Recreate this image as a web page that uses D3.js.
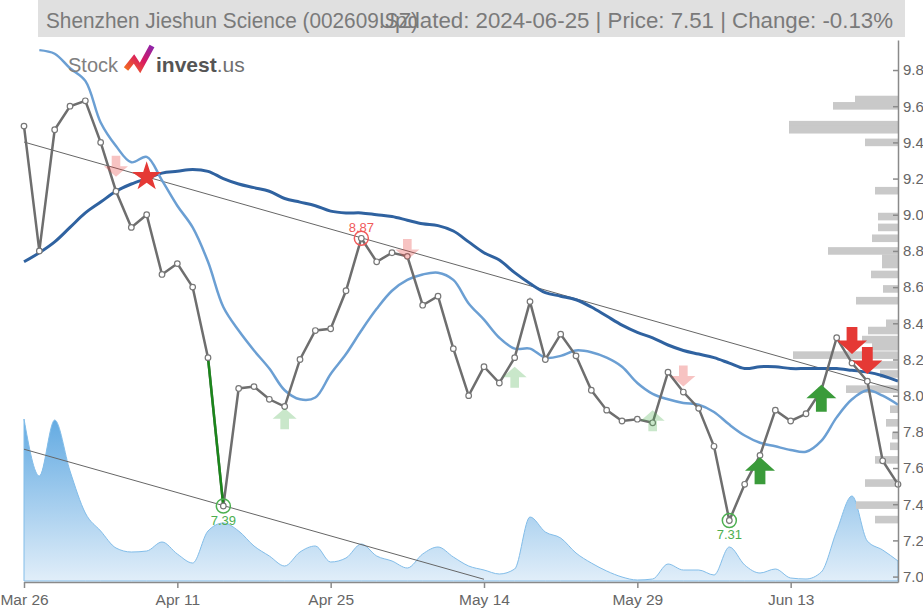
<!DOCTYPE html>
<html>
<head>
<meta charset="utf-8">
<script src="https://cdn.jsdelivr.net/npm/d3@7"></script>
<style>
body{margin:0;background:#fff;}
svg{display:block;font-family:"Liberation Sans",Arial,sans-serif;}
</style>
</head>
<body>
<div id="chart"></div>
<script>
// trading days, label every 10 sessions
var tickIdx = [0, 10, 20, 30, 40, 50];
var tickLabels = ["Mar 26", "Apr 11", "Apr 25", "May 14", "May 29", "Jun 13"];
var yTicks = [7.0, 7.2, 7.4, 7.6, 7.8, 8.0, 8.2, 8.4, 8.6, 8.8, 9.0, 9.2, 9.4, 9.6, 9.8];

var price = [9.49, 8.80, 9.47, 9.60, 9.63, 9.40, 9.13, 8.93, 9.00, 8.67,
  8.73, 8.60, 8.21, 7.39, 8.04, 8.05, 7.98, 7.94, 8.20, 8.36,
  8.37, 8.58, 8.87, 8.74, 8.79, 8.77, 8.50, 8.55, 8.26, 8.00,
  8.16, 8.07, 8.21, 8.52, 8.20, 8.34, 8.22, 8.03, 7.92, 7.86,
  7.87, 7.85, 8.13, 8.02, 7.93, 7.72, 7.31, 7.51, 7.67, 7.92,
  7.86, 7.90, 8.03, 8.32, 8.18, 8.08, 7.64, 7.51];

var maShort = [null, 9.91, 9.89, 9.81, 9.74, 9.51, 9.38, 9.29, 9.32, 9.19,
  9.05, 8.93, 8.74, 8.49, 8.36, 8.25, 8.15, 8.03, 7.98, 7.99,
  8.12, 8.23, 8.36, 8.48, 8.58, 8.64, 8.67, 8.68, 8.64, 8.51,
  8.42, 8.32, 8.26, 8.26, 8.21, 8.22, 8.25, 8.24, 8.21, 8.16,
  8.07, 8.01, 7.98, 7.96, 7.95, 7.91, 7.84, 7.78, 7.74, 7.72,
  7.70, 7.69, 7.75, 7.88, 7.98, 8.03, 8.00, 7.95];

var maLong = [8.74, 8.79, 8.85, 8.93, 9.01, 9.07, 9.13, 9.17, 9.20, 9.23,
  9.24, 9.25, 9.24, 9.20, 9.17, 9.15, 9.13, 9.09, 9.07, 9.05,
  9.02, 9.01, 9.01, 9.00, 8.99, 8.97, 8.95, 8.94, 8.91, 8.85,
  8.79, 8.75, 8.68, 8.62, 8.57, 8.55, 8.53, 8.49, 8.44, 8.39,
  8.35, 8.32, 8.28, 8.25, 8.23, 8.21, 8.18, 8.15, 8.16, 8.16,
  8.15, 8.15, 8.15, 8.15, 8.14, 8.13, 8.11, 8.08];

var volume = [16.2, 10.5, 16.1, 11.0, 6.8, 5.0, 3.3, 2.9, 3.0, 3.9,
  2.7, 1.8, 5.0, 5.8, 5.0, 3.5, 2.5, 1.5, 2.9, 3.5,
  1.9, 2.3, 3.7, 2.5, 2.0, 1.3, 2.7, 3.4, 2.4, 1.5,
  1.1, 0.7, 1.2, 6.4, 4.9, 4.3, 2.8, 1.8, 1.0, 0.4,
  0.1, 0.2, 1.7, 1.1, 1.1, 0.6, 3.4, 1.6, 0.8, 1.2,
  0.3, 0.2, 0.9, 5.0, 8.5, 4.0, 3.1, 2.0];

var profilePrice = [9.637, 9.602, 9.498, 9.47, 9.40, 9.133, 8.99, 8.93, 8.87, 8.80,
  8.76, 8.725, 8.67, 8.59, 8.525, 8.40, 8.36, 8.31, 8.27, 8.224,
  8.17, 8.12, 8.036, 7.925, 7.85, 7.78, 7.72, 7.645, 7.517, 7.395, 7.315];
var profileVol = [43, 65, 109, 109, 33, 23, 20, 20, 26, 70,
  16, 16, 27, 15, 42, 12, 30, 36, 26, 105,
  38, 18, 52, 8, 12, 6, 8, 23, 33, 42, 23];

// trend channel [index, price]
var trendUpper = [[0, 9.402], [57, 8.03]];
var trendLower = [[0, 7.704], [30, 6.985]];

// signals: index and tip price
var buyWeak = [[17, 7.93], [32, 8.16], [41, 7.92]];
var buyStrong = [[48, 7.66], [52, 8.06]];
var sellWeak = [[6, 9.21], [25, 8.75], [43, 8.05]];
var sellStrong = [[54, 8.23], [55, 8.12]];
var starSig = [[8, 9.21]];
var lows = [13, 46];
var highs = [22];

var width = 923, height = 610;

var svg = d3.select("#chart")
  .append("svg")
  .attr("width", width)
  .attr("height", height);

var x = d3.scaleLinear().domain([0, 57]).range([24, 898]);
var y = d3.scaleLinear().domain([6.97, 9.966]).range([582, 40]);
var yv = d3.scaleLinear().domain([0, 20]).range([581, 381]);
var xp = d3.scaleLinear().domain([0, 110]).range([0, 110]);

var defs = svg.append("defs");
var grad = defs.append("linearGradient")
  .attr("id", "volgrad")
  .attr("gradientUnits", "userSpaceOnUse")
  .attr("x1", 0).attr("x2", 0)
  .attr("y1", 418).attr("y2", 581);
grad.append("stop").attr("offset", "0").attr("stop-color", "#62aae2");
grad.append("stop").attr("offset", "1").attr("stop-color", "#e1eef9");

var lg = defs.append("linearGradient").attr("id", "logograd")
  .attr("x1", 0).attr("x2", 1).attr("y1", 1).attr("y2", 0);
lg.append("stop").attr("offset", "0").attr("stop-color", "#f26a21");
lg.append("stop").attr("offset", "0.5").attr("stop-color", "#d81b60");
lg.append("stop").attr("offset", "1").attr("stop-color", "#8e24aa");

// volume area
var area = d3.area()
  .x(function(d, i) { return x(i); })
  .y0(yv(0))
  .y1(function(d) { return yv(d); })
  .curve(d3.curveMonotoneX);
svg.append("path")
  .datum(volume)
  .attr("d", area)
  .attr("fill", "url(#volgrad)")
  .attr("stroke", "#82bde9")
  .attr("stroke-width", 1);

// volume profile
svg.append("g")
  .selectAll("rect")
  .data(profilePrice)
  .enter()
  .append("rect")
  .attr("x", function(d, i) { return 898 - xp(profileVol[i]); })
  .attr("y", function(d) { return y(d + 0.021); })
  .attr("width", function(d, i) { return xp(profileVol[i]); })
  .attr("height", function(d) { return y(d - 0.021) - y(d + 0.021); })
  .attr("fill", "#c9c9c9");

// trend channel
[trendUpper, trendLower].forEach(function(t) {
  svg.append("line")
    .attr("x1", x(t[0][0])).attr("y1", y(t[0][1]))
    .attr("x2", x(t[1][0])).attr("y2", y(t[1][1]))
    .attr("stroke", "#666")
    .attr("stroke-width", 1);
});

var line = d3.line()
  .defined(function(d) { return d != null; })
  .x(function(d, i) { return x(i); })
  .y(function(d) { return y(d); })
  .curve(d3.curveCatmullRom);

svg.append("path")
  .datum(maLong)
  .attr("d", line)
  .attr("fill", "none")
  .attr("stroke", "#2f62a0")
  .attr("stroke-width", 3);

svg.append("path")
  .datum(maShort)
  .attr("d", line)
  .attr("fill", "none")
  .attr("stroke", "#6b9fd3")
  .attr("stroke-width", 2.5);

// price
var pline = d3.line()
  .x(function(d, i) { return x(i); })
  .y(function(d) { return y(d); });
svg.append("path")
  .datum(price)
  .attr("d", pline)
  .attr("fill", "none")
  .attr("stroke", "#6e6e6e")
  .attr("stroke-width", 2.5);

svg.append("line")
  .attr("x1", x(12)).attr("y1", y(price[12]))
  .attr("x2", x(13)).attr("y2", y(price[13]))
  .attr("stroke", "#1b861b")
  .attr("stroke-width", 2.5);

svg.append("g")
  .selectAll("circle")
  .data(price)
  .enter()
  .append("circle")
  .attr("cx", function(d, i) { return x(i); })
  .attr("cy", function(d) { return y(d); })
  .attr("r", 2.8)
  .attr("fill", "#fff")
  .attr("stroke", "#777")
  .attr("stroke-width", 1.2);

// arrows
function upArrow(w, h) {
  var hh = h * 0.5, s = w * 0.36;
  return "M0,0L" + (w / 2) + "," + hh + "L" + (s / 2) + "," + hh + "L" + (s / 2) + "," + h +
    "L" + (-s / 2) + "," + h + "L" + (-s / 2) + "," + hh + "L" + (-w / 2) + "," + hh + "Z";
}
function drawArrows(list, up, w, h, color, op) {
  svg.append("g")
    .selectAll("path")
    .data(list)
    .enter()
    .append("path")
    .attr("d", upArrow(w, h))
    .attr("transform", function(d) {
      return "translate(" + x(d[0]) + "," + y(d[1]) + ")" + (up ? "" : " scale(1,-1)");
    })
    .attr("fill", color)
    .attr("opacity", op);
}
drawArrows(buyWeak, true, 24, 21, "#4caf50", 0.3);
drawArrows(sellWeak, false, 24, 21, "#e53935", 0.3);
drawArrows(buyStrong, true, 30, 27, "#3a9b3a", 1);
drawArrows(sellStrong, false, 30, 27, "#e53935", 1);

svg.append("g")
  .selectAll("path")
  .data(starSig)
  .enter()
  .append("path")
  .attr("d", d3.symbol().type(d3.symbolStar).size(270))
  .attr("transform", function(d) { return "translate(" + x(d[0]) + "," + y(d[1]) + ")"; })
  .attr("fill", "#e53935");

// low / high markers
lows.forEach(function(i) {
  svg.append("circle")
    .attr("cx", x(i)).attr("cy", y(price[i])).attr("r", 7)
    .attr("fill", "none").attr("stroke", "#4caf50").attr("stroke-width", 1.5);
  svg.append("text")
    .attr("x", x(i)).attr("y", y(price[i]) + 19)
    .attr("text-anchor", "middle")
    .attr("font-size", 13)
    .attr("fill", "#4caf50")
    .text(price[i].toFixed(2));
});
highs.forEach(function(i) {
  svg.append("circle")
    .attr("cx", x(i)).attr("cy", y(price[i])).attr("r", 7)
    .attr("fill", "none").attr("stroke", "#f05a5a").attr("stroke-width", 1.5);
  svg.append("text")
    .attr("x", x(i)).attr("y", y(price[i]) - 6)
    .attr("text-anchor", "middle")
    .attr("font-size", 13)
    .attr("fill", "#f05a5a")
    .text(price[i].toFixed(2));
});

// axes
var xAxis = svg.append("g")
  .attr("transform", "translate(0,582)")
  .call(d3.axisBottom(x)
    .tickValues(tickIdx)
    .tickFormat(function(d, i) { return tickLabels[i]; })
    .tickSize(6)
    .tickSizeOuter(0)
    .tickPadding(6));
var yAxis = svg.append("g")
  .attr("transform", "translate(898,0)")
  .call(d3.axisRight(y)
    .tickValues(yTicks)
    .tickFormat(d3.format(".1f"))
    .tickSizeInner(-5)
    .tickSizeOuter(0)
    .tickPadding(5));
[xAxis, yAxis].forEach(function(a) {
  a.selectAll("path,line").attr("stroke", "#8a8a8a").attr("stroke-width", 1.5);
  a.selectAll("text").attr("fill", "#666").attr("font-size", 15).attr("font-family", "Liberation Sans, Arial, sans-serif");
});
xAxis.selectAll("text").attr("font-size", 15.5);

// title (the two texts overlap in the original too)
svg.append("rect")
  .attr("x", 38).attr("y", 0)
  .attr("width", 867).attr("height", 37)
  .attr("fill", "#e0e0e0");
svg.append("text")
  .attr("x", 46).attr("y", 28)
  .attr("font-size", 22)
  .attr("fill", "#7a7a7a")
  .attr("textLength", 372)
  .attr("lengthAdjust", "spacingAndGlyphs")
  .text("Shenzhen Jieshun Science (002609.SZ)");
svg.append("text")
  .attr("x", 893).attr("y", 28)
  .attr("text-anchor", "end")
  .attr("font-size", 22)
  .attr("fill", "#7a7a7a")
  .attr("textLength", 514)
  .attr("lengthAdjust", "spacingAndGlyphs")
  .text("Updated: 2024-06-25 | Price: 7.51 | Change: -0.13%");

// logo
var logo = svg.append("g");
logo.append("text")
  .attr("x", 68).attr("y", 72)
  .attr("font-size", 20)
  .attr("fill", "#808080")
  .text("Stock");
logo.append("path")
  .attr("d", "M126,69L134,59L140,68L152,46")
  .attr("fill", "none")
  .attr("stroke", "url(#logograd)")
  .attr("stroke-width", 5.5)
  .attr("stroke-linejoin", "miter");
var lt = logo.append("text")
  .attr("x", 156).attr("y", 72)
  .attr("font-size", 21)
  .attr("fill", "#555");
lt.append("tspan").attr("font-weight", "bold").text("invest");
lt.append("tspan").attr("fill", "#707070").text(".us");
</script>
</body>
</html>
